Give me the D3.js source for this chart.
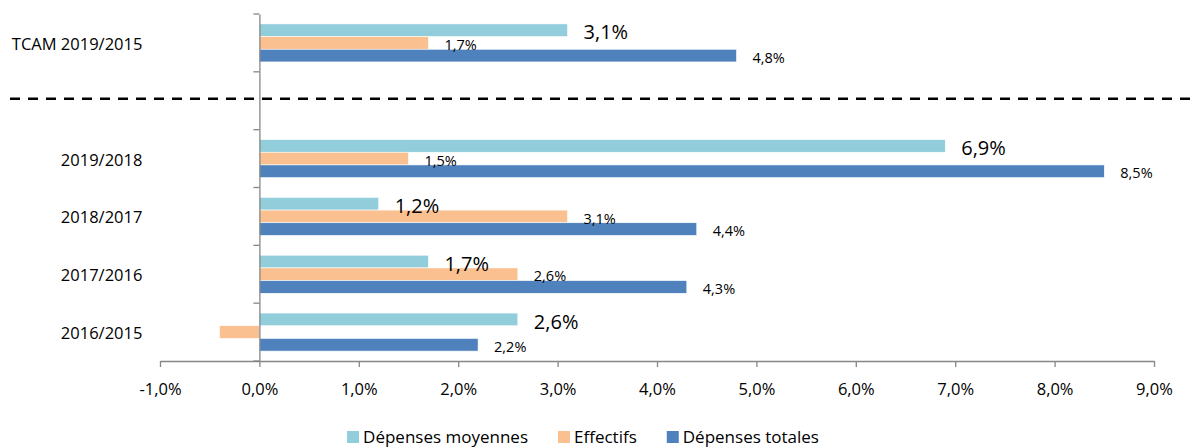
<!DOCTYPE html>
<html>
<head>
<meta charset="utf-8">
<script src="https://cdn.jsdelivr.net/npm/d3@7"></script>
<style>
  html, body { margin: 0; padding: 0; background: #fff; }
  svg { display: block; font-family: "Open Sans", sans-serif; }
  .axis path, .axis line { stroke: #868686; }
</style>
</head>
<body>
<div id="chart"></div>
<script>
// Growth rates, in percent
const categories = ['TCAM 2019/2015', '', '2019/2018', '2018/2017', '2017/2016', '2016/2015'];
const seriesNames = ['Dépenses moyennes', 'Effectifs', 'Dépenses totales'];
const depensesMoyennes = [3.1, null, 6.9, 1.2, 1.7, 2.6];
const effectifs = [1.7, null, 1.5, 3.1, 2.6, -0.4];
const depensesTotales = [4.8, null, 8.5, 4.4, 4.3, 2.2];
const xTicks = [-1, 0, 1, 2, 3, 4, 5, 6, 7, 8, 9];

const colors = ['#92CDDC', '#FAC090', '#4F81BD'];
const labelSizes = [20, 14.5, 14.5];

const width = 1192;
const height = 448;

const frLocale = d3.formatLocale({
  decimal: ',',
  thousands: ' ',
  grouping: [3],
  currency: ['', ' €'],
  minus: '-'
});
const pct = v => frLocale.format('.1f')(v) + '%';

const svg = d3.select('#chart')
  .append('svg')
  .attr('width', width)
  .attr('height', height);

const x = d3.scaleLinear().domain([-1, 9]).range([160, 1154]);
const y = d3.scaleBand().domain(categories).range([14, 361]).padding(0);
const yInner = d3.scaleBand().domain(seriesNames).range([0, y.bandwidth()]).paddingInner(0).paddingOuter(0.78);

const allSeries = [depensesMoyennes, effectifs, depensesTotales];
const bars = [];
allSeries.forEach((values, s) => {
  values.forEach((v, i) => {
    if (v === null) return;
    bars.push({ cat: categories[i], series: seriesNames[s], s: s, value: v });
  });
});

// Bars
svg.append('g')
  .selectAll('rect')
  .data(bars)
  .enter().append('rect')
  .attr('x', d => x(Math.min(0, d.value)))
  .attr('width', d => Math.abs(x(d.value) - x(0)))
  .attr('y', d => y(d.cat) + yInner(d.series))
  .attr('height', yInner.bandwidth())
  .attr('fill', d => colors[d.s])
  .attr('stroke', '#fff')
  .attr('stroke-width', 0.6);

// Data labels (the negative one is not shown on the original)
svg.append('g')
  .selectAll('text')
  .data(bars.filter(d => d.value >= 0))
  .enter().append('text')
  .attr('x', d => x(d.value) + 16)
  .attr('y', d => y(d.cat) + yInner(d.series) + yInner.bandwidth() / 2 + 2)
  .attr('dy', '0.36em')
  .attr('font-size', d => labelSizes[d.s])
  .attr('fill', '#000')
  .text(d => pct(d.value));

// X axis
const xAxis = svg.append('g')
  .attr('class', 'axis')
  .attr('transform', `translate(0,${y.range()[1]})`)
  .call(d3.axisBottom(x).tickValues(xTicks).tickSize(6).tickSizeOuter(0).tickFormat(pct));
xAxis.select('.domain').attr('stroke-width', 1.3);
xAxis.selectAll('.tick line').attr('stroke-width', 1.3);
xAxis.selectAll('text')
  .attr('y', 34)
  .attr('dy', 0)
  .attr('font-size', 16.5)
  .attr('font-family', '"Open Sans", sans-serif')
  .attr('fill', '#000');

// Y axis: labels at band centres, tick marks between bands
const yAxis = svg.append('g')
  .attr('class', 'axis')
  .attr('transform', `translate(${x(0)},0)`)
  .call(d3.axisLeft(y).tickSize(0).tickPadding(117));
yAxis.select('.domain').attr('stroke-width', 1.3);
yAxis.selectAll('text')
  .attr('dy', '0.42em')
  .attr('font-size', 16.5)
  .attr('font-family', '"Open Sans", sans-serif')
  .attr('fill', '#000');

const boundaries = categories.map(c => y(c)).concat([y.range()[1]]);
yAxis.selectAll('.bound')
  .data(boundaries)
  .enter().append('line')
  .attr('class', 'bound')
  .attr('x1', -6)
  .attr('x2', 0)
  .attr('y1', d => d)
  .attr('y2', d => d)
  .attr('stroke', '#868686')
  .attr('stroke-width', 1.3);

// Dashed separator in the empty band
const sepY = y('') + y.bandwidth() / 2 - 2;
svg.append('line')
  .attr('x1', 10)
  .attr('x2', width)
  .attr('y1', sepY)
  .attr('y2', sepY)
  .attr('stroke', '#000')
  .attr('stroke-width', 2.6)
  .attr('stroke-dasharray', '10,8');

// Legend
const legend = svg.append('g').attr('font-size', 17);
let lx = 0;
seriesNames.forEach((name, i) => {
  const g = legend.append('g');
  g.append('rect')
    .attr('x', 0).attr('y', -6)
    .attr('width', 12).attr('height', 12)
    .attr('fill', colors[i]);
  const t = g.append('text')
    .attr('x', 16).attr('dy', '0.36em')
    .attr('fill', '#000')
    .text(name);
  const w = 16 + t.node().getComputedTextLength();
  g.attr('transform', `translate(${lx},0)`);
  lx += w + 30;
});
const legendWidth = lx - 30;
legend.attr('transform', `translate(${583 - legendWidth / 2},437)`);
</script>
</body>
</html>
